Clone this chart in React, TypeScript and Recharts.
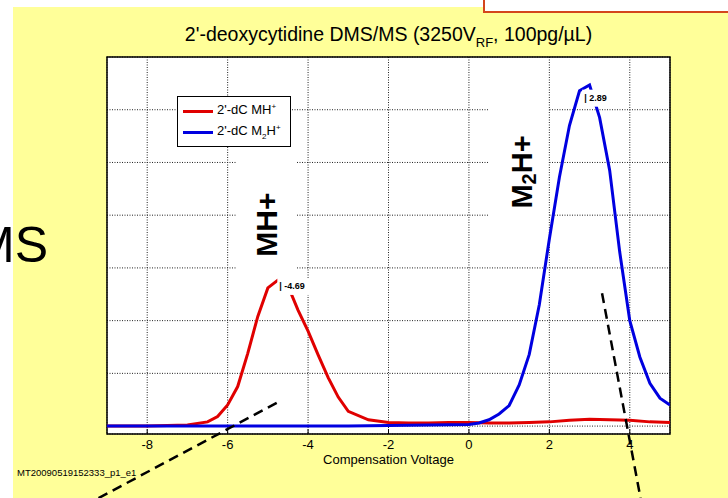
import React from "react"
import {
  LineChart,
  Line,
  XAxis,
  YAxis,
  CartesianGrid,
  Legend,
  ReferenceArea,
  ReferenceDot,
  ReferenceLine,
} from "recharts"

const FONT = '"Liberation Sans", Arial, Helvetica, sans-serif'

// compensation voltage (V) / intensity (a.u.)
const mhVolts = [-9, -8, -7.5, -7, -6.5, -6.25, -6, -5.75, -5.5, -5.25, -5, -4.75, -4.69, -4.5, -4.25, -4, -3.75, -3.5, -3.25, -3, -2.5, -2, -1.5, -1, -0.5, 0, 0.5, 1, 1.5, 2, 2.5, 3, 3.5, 4, 4.5, 5]
const mhSignal = [0, 0, 0.01, 0.02, 0.08, 0.18, 0.4, 0.75, 1.38, 2.08, 2.62, 2.77, 2.78, 2.66, 2.2, 1.8, 1.35, 0.92, 0.55, 0.28, 0.12, 0.07, 0.06, 0.06, 0.07, 0.07, 0.06, 0.06, 0.07, 0.08, 0.11, 0.13, 0.12, 0.11, 0.08, 0.07]

const m2Volts = [-9, -8, -7, -6, -5, -4, -3, -2, -1, 0, 0.25, 0.5, 0.75, 1, 1.25, 1.5, 1.75, 2, 2.25, 2.5, 2.75, 3, 3.25, 3.5, 3.75, 4, 4.25, 4.5, 4.75, 5]
const m2Signal = [0, 0, 0, 0, 0, 0, 0, 0.01, 0.02, 0.03, 0.06, 0.12, 0.23, 0.39, 0.78, 1.36, 2.3, 3.55, 4.72, 5.7, 6.36, 6.47, 5.85, 4.85, 3.3, 2.0, 1.31, 0.81, 0.53, 0.4]

const xTicks = [-8, -6, -4, -2, 0, 2, 4]
const yTicks = [0, 1, 2, 3, 4, 5, 6, 7]
const xDomain = [-9, 5]
const yDomain = [-0.15, 7]

// peak-position tags: where they sit, what they say
const peakTagX = [-4.69, 2.89]
const peakTagY = [2.81, 6.38]
const peakTagText = ["-4.69", "2.89"]

const mhData = mhVolts.map((x, i) => ({ x, y: mhSignal[i] }))
const m2Data = m2Volts.map((x, i) => ({ x, y: m2Signal[i] }))

const RED = "#e00000"
const BLUE = "#0000e0"

const NoLabel = () => <g />

function PeakTag({ cx, cy, text }: { cx?: number; cy?: number; text: string }) {
  if (cx == null || cy == null) return null
  return (
    <g>
      <rect x={cx - 3} y={cy} width={36} height={17} fill="#fff" />
      <text x={cx - 1} y={cy + 11.5} fontFamily={FONT} fontSize={9} fontWeight="bold" fill="#000">
        | {text}
      </text>
    </g>
  )
}

function IonTag({ cx, cy }: { cx?: number; cy?: number }) {
  if (cx == null || cy == null) return null
  return (
    <g>
      <rect x={cx - 30} y={cy - 66} width={60} height={113} fill="#fff" />
      <text
        x={cx}
        y={cy}
        transform={`rotate(-90 ${cx} ${cy})`}
        textAnchor="middle"
        dominantBaseline="central"
        fontFamily={FONT}
        fontSize={30}
        fontWeight="bold"
        fill="#000"
      >
        MH+
      </text>
    </g>
  )
}

function DimerTag({ cx, cy }: { cx?: number; cy?: number }) {
  if (cx == null || cy == null) return null
  return (
    <g>
      <rect x={cx - 33} y={cy - 72} width={59} height={128} fill="#fff" />
      <text
        x={cx}
        y={cy}
        transform={`rotate(-90 ${cx} ${cy})`}
        textAnchor="middle"
        dominantBaseline="central"
        fontFamily={FONT}
        fontSize={29}
        fontWeight="bold"
        fill="#000"
      >
        M
        <tspan fontSize={20} dy={7}>2</tspan>
        <tspan dy={-7}>H+</tspan>
      </text>
    </g>
  )
}

function SeriesKey() {
  const row = (color: string, label: React.ReactNode, top: number) => (
    <div style={{ position: "absolute", left: 5, top, display: "flex", alignItems: "center" }}>
      <div style={{ width: 30, height: 3, background: color }} />
      <span style={{ marginLeft: 4, whiteSpace: "nowrap" }}>{label}</span>
    </div>
  )
  const sup = { fontSize: 8, position: "relative" as const, top: -5 }
  const sub = { fontSize: 8, position: "relative" as const, top: 4 }
  return (
    <div
      style={{
        position: "relative",
        width: 114,
        height: 51,
        boxSizing: "border-box",
        border: "1.5px solid #000",
        background: "#fff",
        fontFamily: FONT,
        fontSize: 13,
        lineHeight: "14px",
        color: "#000",
      }}
    >
      {row(RED, <>2'-dC MH<span style={sup}>+</span></>, 6)}
      {row(BLUE, <>2'-dC M<span style={sub}>2</span>H<span style={sup}>+</span></>, 27)}
    </div>
  )
}

export default function App() {
  return (
    <div
      style={{
        position: "absolute",
        left: 0,
        top: 0,
        width: 728,
        height: 498,
        overflow: "hidden",
        background: "#fff",
        fontFamily: FONT,
      }}
    >
      <div style={{ position: "absolute", left: 13, top: 7, right: 0, bottom: 0, background: "#ffff99" }} />
      <div
        style={{
          position: "absolute",
          left: 483,
          top: -10,
          width: 260,
          height: 19,
          border: "2px solid #d4461c",
          background: "#fff",
        }}
      />
      <div style={{ position: "absolute", left: -27, top: 220, fontSize: 50, lineHeight: "50px", color: "#000" }}>MS</div>
      <div
        style={{
          position: "absolute",
          left: 107,
          top: 25,
          width: 563,
          textAlign: "center",
          fontSize: 19.5,
          lineHeight: "19px",
          color: "#000",
          whiteSpace: "nowrap",
        }}
      >
        2'-deoxycytidine DMS/MS (3250V<span style={{ fontSize: 13, position: "relative", top: 6 }}>RF</span>, 100pg/µL)
      </div>

      <div style={{ position: "absolute", left: 0, top: 0 }}>
        <LineChart width={728} height={498} margin={{ top: 57, right: 58, bottom: 32, left: 107 }}>
          <CartesianGrid fill="#fff" stroke="#222" strokeDasharray="1 1.5" strokeWidth={1} />
          <XAxis
            dataKey="x"
            type="number"
            domain={xDomain}
            ticks={xTicks}
            allowDataOverflow
            height={32}
            axisLine={false}
            tickLine={{ stroke: "#000" }}
            tickSize={-5}
            tickMargin={11}
            tick={{ fontSize: 13, fill: "#000", fontFamily: FONT }}
            label={{
              value: "Compensation Voltage",
              position: "insideBottom",
              offset: 2,
              fontSize: 13,
              fill: "#000",
              fontFamily: FONT,
            }}
          />
          <XAxis
            xAxisId="top"
            orientation="top"
            type="number"
            domain={xDomain}
            ticks={xTicks}
            height={0}
            axisLine={false}
            tickLine={{ stroke: "#000" }}
            tickSize={-5}
            tick={NoLabel}
          />
          <YAxis
            type="number"
            domain={yDomain}
            ticks={yTicks}
            width={0}
            axisLine={false}
            tickLine={{ stroke: "#000" }}
            tickSize={-5}
            tick={NoLabel}
          />
          <YAxis
            yAxisId="right"
            orientation="right"
            type="number"
            domain={yDomain}
            ticks={yTicks}
            width={0}
            axisLine={false}
            tickLine={{ stroke: "#000" }}
            tickSize={-5}
            tick={NoLabel}
          />
          <ReferenceDot x={-5.03} y={3.82} r={0} shape={(p: any) => <IonTag cx={p.cx} cy={p.cy} />} />
          <ReferenceDot x={1.32} y={4.82} r={0} shape={(p: any) => <DimerTag cx={p.cx} cy={p.cy} />} />
          <Legend
            layout="vertical"
            align="center"
            verticalAlign="middle"
            content={() => <SeriesKey />}
            wrapperStyle={{ left: 177, top: 96, width: 114, height: 51 }}
          />
          <Line
            data={mhData}
            dataKey="y"
            name="2'-dC MH+"
            type="linear"
            stroke={RED}
            strokeWidth={3}
            dot={false}
            isAnimationActive={false}
          />
          <Line
            data={m2Data}
            dataKey="y"
            name="2'-dC M2H+"
            type="linear"
            stroke={BLUE}
            strokeWidth={3}
            dot={false}
            isAnimationActive={false}
          />
          {peakTagX.map((x, i) => (
            <ReferenceDot
              key={i}
              x={x}
              y={peakTagY[i]}
              r={0}
              shape={(p: any) => <PeakTag cx={p.cx} cy={p.cy} text={peakTagText[i]} />}
            />
          ))}
          <ReferenceArea
            x1={xDomain[0]}
            x2={xDomain[1]}
            y1={yDomain[0]}
            y2={yDomain[1]}
            fill="none"
            stroke="#000"
            strokeWidth={1.5}
            ifOverflow="visible"
          />
          <ReferenceLine
            segment={[
              { x: -4.78, y: 0.44 },
              { x: -9.54, y: -1.5 },
            ]}
            stroke="#000"
            strokeWidth={2.5}
            strokeDasharray="10 6"
            ifOverflow="visible"
          />
          <ReferenceLine
            segment={[
              { x: 3.31, y: 2.52 },
              { x: 4.3, y: -1.5 },
            ]}
            stroke="#000"
            strokeWidth={2.5}
            strokeDasharray="10 6"
            ifOverflow="visible"
          />
        </LineChart>
      </div>

      <div style={{ position: "absolute", left: 17, top: 467, fontSize: 9.5, lineHeight: "11px", color: "#000" }}>
        MT20090519152333_p1_e1
      </div>
    </div>
  )
}
